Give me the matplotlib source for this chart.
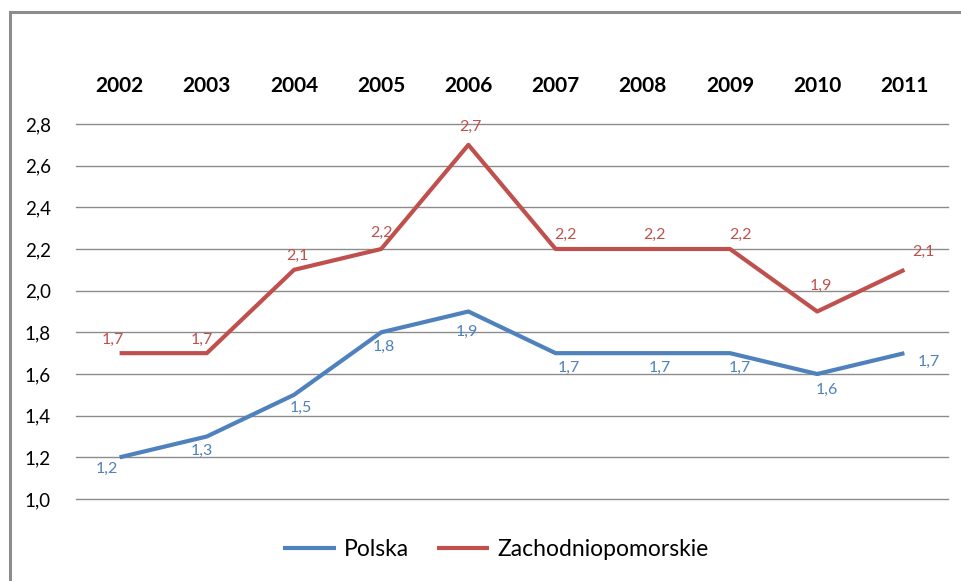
import matplotlib.pyplot as plt
from matplotlib.patches import Rectangle

years = ['2002', '2003', '2004', '2005', '2006', '2007', '2008', '2009', '2010', '2011']
polska = [1.2, 1.3, 1.5, 1.8, 1.9, 1.7, 1.7, 1.7, 1.6, 1.7]
zachodniopomorskie = [1.7, 1.7, 2.1, 2.2, 2.7, 2.2, 2.2, 2.2, 1.9, 2.1]
y_ticks = [1.0, 1.2, 1.4, 1.6, 1.8, 2.0, 2.2, 2.4, 2.6, 2.8]

# label offsets in pixels (dx, dy), like Excel placed them
pl_off = [(-13, -12), (-5, -14), (7, -13), (3, -15), (-2, -20), (13, -15), (17, -15), (10, -15), (10, -16), (24, -9)]
zp_off = [(-7, 13), (-5, 13), (3, 14), (0, 16), (2, 18), (10, 14), (12, 14), (10, 14), (4, 26), (19, 18)]

blue = '#4F81BD'
red = '#C0504D'
font = 'Lato'

fig = plt.figure(figsize=(9.61, 5.81), dpi=100)
W, H = 961, 581
ax = fig.add_axes([76 / W, 1 - 499 / H, (948 - 76) / W, (499 - 124) / H])

x = list(range(len(years)))
ax.plot(x, polska, color=blue, lw=3, label='Polska', solid_capstyle='butt', zorder=3)
ax.plot(x, zachodniopomorskie, color=red, lw=3, label='Zachodniopomorskie', solid_capstyle='butt', zorder=3)

pt = 72 / 100
for i, v in enumerate(polska):
    ax.annotate(f'{v:.1f}'.replace('.', ','), (i, v), xytext=(pl_off[i][0] * pt, pl_off[i][1] * pt),
                textcoords='offset points', ha='center', va='center', color=blue, fontsize=11.5, family=font)
for i, v in enumerate(zachodniopomorskie):
    ax.annotate(f'{v:.1f}'.replace('.', ','), (i, v), xytext=(zp_off[i][0] * pt, zp_off[i][1] * pt),
                textcoords='offset points', ha='center', va='center', color=red, fontsize=11.5, family=font)

ax.set_xlim(-0.5, 9.5)
ax.set_ylim(1.0, 2.8)
ax.set_yticks(y_ticks)
ax.set_yticklabels([f'{t:.1f}'.replace('.', ',') for t in y_ticks], fontsize=13.5, family=font)
ax.set_xticks(x)
ax.set_xticklabels(years, fontsize=15, fontweight='bold', family=font)
ax.xaxis.tick_top()
ax.tick_params(axis='x', length=0, pad=20)
ax.tick_params(axis='y', length=0, pad=18)
ax.yaxis.grid(True, color='#8c8c8c', lw=1)
for gl in ax.get_ygridlines():
    gl.set_clip_on(False)
ax.set_axisbelow(True)
for s in ax.spines.values():
    s.set_visible(False)

leg = fig.legend(loc='center', bbox_to_anchor=(496 / W, 1 - 550 / H), ncol=2, frameon=False,
                 prop={'family': font, 'size': 16.5}, handlelength=2.3, columnspacing=1.2, handletextpad=0.35)

fig.patches.append(Rectangle((10 / W, -0.1), 1.0, 1 - 12 / H + 0.1, transform=fig.transFigure,
                             fill=False, edgecolor='#8c8c8c', lw=2.2))

fig.savefig('out.png', dpi=100)
